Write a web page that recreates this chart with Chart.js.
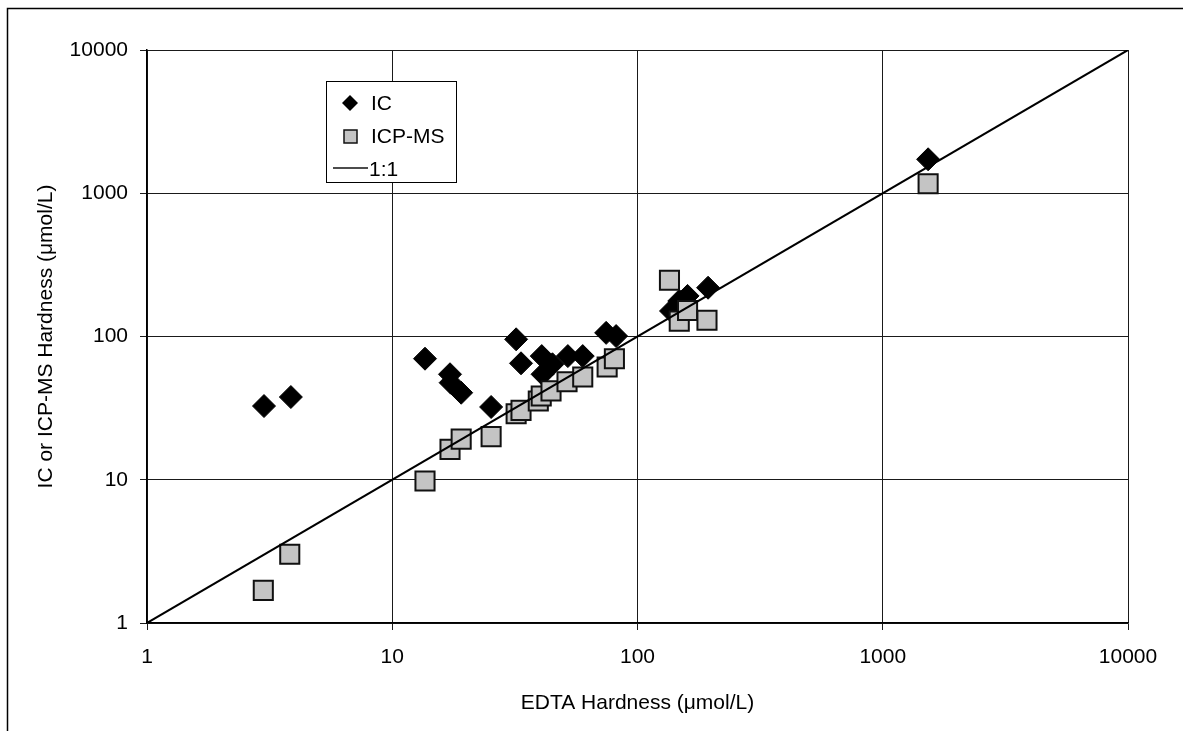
<!DOCTYPE html>
<html>
<head>
<meta charset="utf-8">
<script src="https://cdn.jsdelivr.net/npm/chart.js@4/dist/chart.umd.min.js"></script>
<style>
  html, body { margin: 0; padding: 0; background: #fff; }
  #wrap { width: 1183px; height: 731px; position: relative; }
</style>
</head>
<body>
<div id="wrap"><canvas id="chart"></canvas></div>
<script>
// EDTA hardness vs IC / ICP-MS hardness (umol/L)
const icX = [3.0, 3.86, 13.6, 17.2, 17.3, 19.1, 25.3, 32, 33.5, 40.7, 41, 45, 52, 59.8, 74.5, 81.8, 137, 148, 160, 194, 1531];
const icY = [32.7, 37.8, 70, 54.5, 47.6, 40.5, 32.2, 95.6, 65, 73, 54.5, 64, 73, 73, 106, 100.7, 150.7, 177, 192, 219, 1726];

const icpX = [2.98, 3.82, 13.6, 17.2, 19.1, 25.3, 32, 33.5, 39.4, 40.5, 44.4, 51.6, 59.8, 75.2, 80.5, 135, 148, 160, 192, 1531];
const icpY = [1.69, 3.02, 9.8, 16.3, 19.2, 20, 28.9, 30.5, 35.5, 38.4, 41.7, 48.3, 52.2, 61.2, 70, 247, 128, 152, 130, 1166];

const lineX = [1, 10000];
const lineY = [1, 10000];

const xTicks = [1, 10, 100, 1000, 10000];
const yTicks = [1, 10, 100, 1000, 10000];

const seriesLabels = ['IC', 'ICP-MS', '1:1'];

const toPoints = (xs, ys) => xs.map((x, i) => ({ x: x, y: ys[i] }));

const FONT = 'Liberation Sans, Arial, sans-serif';

// frame around the figure and the boxed legend, drawn by hand
const paperPlugin = {
    id: 'paper',
    afterDraw(chart) {
        const ctx = chart.ctx;
        ctx.save();
        ctx.strokeStyle = '#000';
        ctx.lineWidth = 1.5;
        ctx.beginPath();
        ctx.moveTo(7.5, 731);
        ctx.lineTo(7.5, 8.5);
        ctx.lineTo(1183, 8.5);
        ctx.stroke();

        // legend box
        ctx.fillStyle = '#fff';
        ctx.fillRect(326, 81, 130, 101);
        ctx.lineWidth = 1;
        ctx.strokeRect(326.5, 81.5, 130, 101);

        // IC diamond
        ctx.fillStyle = '#000';
        ctx.beginPath();
        ctx.moveTo(350, 95); ctx.lineTo(358, 103); ctx.lineTo(350, 111); ctx.lineTo(342, 103);
        ctx.closePath();
        ctx.fill();

        // ICP-MS square
        ctx.fillStyle = '#c4c4c4';
        ctx.fillRect(344, 130, 13, 13);
        ctx.lineWidth = 1.5;
        ctx.strokeStyle = '#111';
        ctx.strokeRect(344, 130, 13, 13);

        // 1:1 line
        ctx.lineWidth = 1.5;
        ctx.beginPath();
        ctx.moveTo(333, 168); ctx.lineTo(368, 168);
        ctx.stroke();

        ctx.fillStyle = '#000';
        ctx.font = '21px ' + FONT;
        ctx.textBaseline = 'middle';
        ctx.fillText(seriesLabels[0], 371, 104);
        ctx.fillText(seriesLabels[1], 371, 137);
        ctx.fillText(seriesLabels[2], 369, 170);
        ctx.restore();
    }
};

const gridOpts = { color: '#1a1a1a', lineWidth: 1, tickLength: 7, drawTicks: true };

new Chart(document.getElementById('chart'), {
    type: 'scatter',
    data: {
        datasets: [
            {
                label: seriesLabels[2],
                type: 'line',
                data: toPoints(lineX, lineY),
                borderColor: '#000',
                borderWidth: 2,
                pointRadius: 0,
                fill: false,
                order: 0
            },
            {
                label: seriesLabels[1],
                data: toPoints(icpX, icpY),
                pointStyle: 'rect',
                pointRadius: 13.5,
                pointHoverRadius: 13.5,
                backgroundColor: '#c4c4c4',
                borderColor: '#111',
                borderWidth: 2,
                order: 1
            },
            {
                label: seriesLabels[0],
                data: toPoints(icX, icY),
                pointStyle: 'rectRot',
                pointRadius: 11.5,
                pointHoverRadius: 11.5,
                backgroundColor: '#000',
                borderColor: '#000',
                borderWidth: 1,
                order: 2
            }
        ]
    },
    options: {
        responsive: true,
        maintainAspectRatio: false,
        animation: false,
        layout: { padding: { left: 0, right: 55, top: 50, bottom: 0 } },
        plugins: {
            legend: { display: false },
            tooltip: { enabled: false }
        },
        scales: {
            x: {
                type: 'logarithmic',
                min: 1,
                max: 10000,
                afterBuildTicks: s => { s.ticks = xTicks.map(v => ({ value: v })); },
                afterFit: s => { s.height = 108; },
                ticks: {
                    color: '#000',
                    font: { family: FONT, size: 21 },
                    padding: 15,
                    autoSkip: false,
                    maxRotation: 0,
                    callback: v => String(v)
                },
                grid: gridOpts,
                border: { color: '#000', width: 1.5 },
                title: {
                    display: true,
                    text: 'EDTA Hardness (\u03bcmol/L)',
                    color: '#000',
                    font: { family: FONT, size: 21 },
                    padding: { top: 0, bottom: 15 }
                }
            },
            y: {
                type: 'logarithmic',
                min: 1,
                max: 10000,
                afterBuildTicks: s => { s.ticks = yTicks.map(v => ({ value: v })); },
                afterFit: s => { s.width = 147; },
                ticks: {
                    color: '#000',
                    font: { family: FONT, size: 21 },
                    padding: 12,
                    autoSkip: false,
                    callback: v => String(v)
                },
                grid: gridOpts,
                border: { color: '#000', width: 1.5 },
                title: {
                    display: true,
                    text: 'IC or ICP-MS Hardness (\u03bcmol/L)',
                    color: '#000',
                    font: { family: FONT, size: 21 },
                    padding: { top: 34, bottom: 0 }
                }
            }
        }
    },
    plugins: [paperPlugin]
});
</script>
</body>
</html>
